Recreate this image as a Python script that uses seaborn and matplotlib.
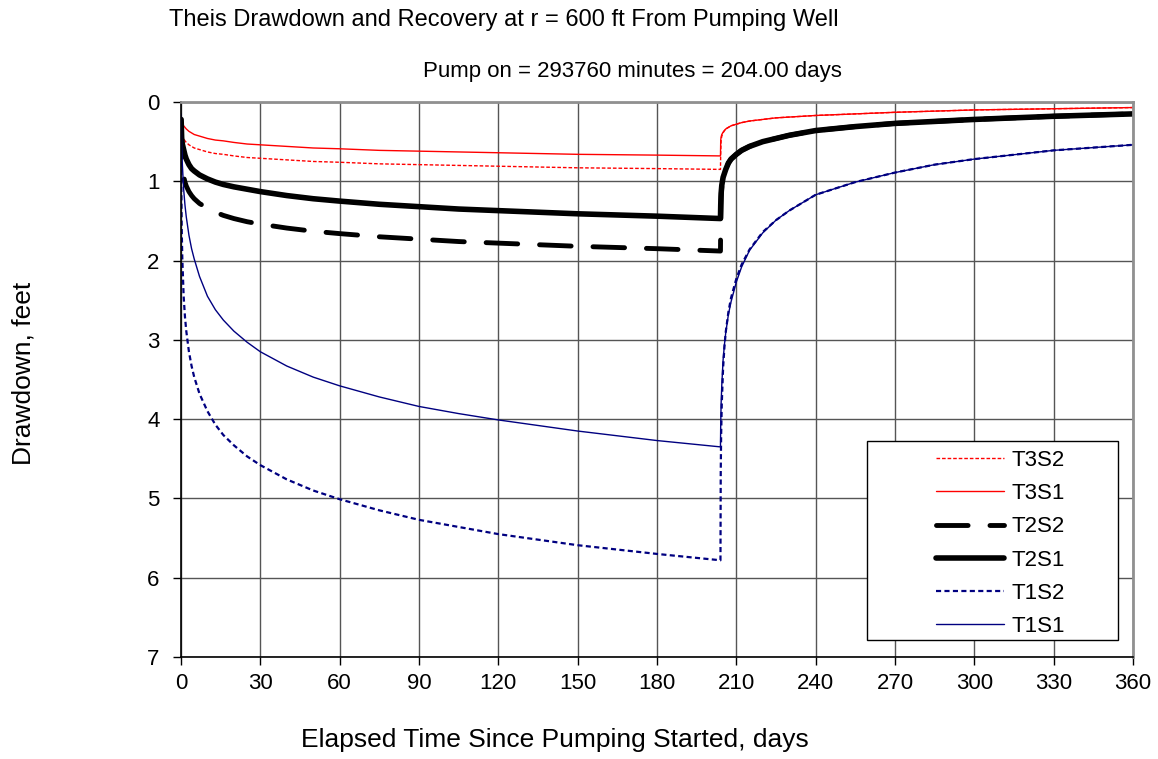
import numpy as np
import pandas as pd
import matplotlib
matplotlib.use("Agg")
import matplotlib.pyplot as plt
from matplotlib.patches import Rectangle
import seaborn as sns

sns.set_style("white")
plt.rcParams['font.family'] = ['Liberation Sans', 'DejaVu Sans']
plt.rcParams['text.color'] = 'black'
plt.rcParams['xtick.color'] = 'black'
plt.rcParams['ytick.color'] = 'black'

# Data (days since pumping started, drawdown in feet)
days = [0.05, 0.25, 0.5, 1, 1.5, 2, 3, 4, 5, 7, 10, 13, 16, 20, 25, 30, 40, 50, 60, 75,
        90, 105, 120, 150, 180, 204,
        204.1, 204.25, 204.5, 205, 205.5, 206, 207, 208, 210, 212, 215, 220, 225, 230,
        240, 255, 270, 285, 300, 330, 360]

t3s2 = [0.20, 0.38, 0.44, 0.46, 0.49, 0.51, 0.54, 0.56, 0.58, 0.60, 0.63, 0.65, 0.66, 0.68, 0.70, 0.71, 0.73, 0.75, 0.76, 0.78,
        0.79, 0.80, 0.81, 0.83, 0.84, 0.85,
        0.62, 0.48, 0.43, 0.39, 0.36, 0.34, 0.32, 0.30, 0.28, 0.26, 0.24, 0.22, 0.20, 0.19,
        0.17, 0.15, 0.13, 0.115, 0.10, 0.085, 0.07]
t3s1 = [0.18, 0.24, 0.27, 0.30, 0.32, 0.34, 0.37, 0.39, 0.41, 0.43, 0.46, 0.48, 0.49, 0.51, 0.53, 0.54, 0.56, 0.58, 0.59, 0.61,
        0.62, 0.63, 0.64, 0.66, 0.67, 0.68,
        0.48, 0.44, 0.41, 0.38, 0.36, 0.34, 0.32, 0.30, 0.28, 0.26, 0.24, 0.22, 0.20, 0.19,
        0.17, 0.15, 0.13, 0.115, 0.10, 0.085, 0.07]
t2s2 = [0.30, 0.69, 0.81, 0.94, 1.01, 1.06, 1.13, 1.18, 1.22, 1.28, 1.34, 1.39, 1.43, 1.47, 1.51, 1.54, 1.59, 1.63, 1.66, 1.70,
        1.73, 1.76, 1.78, 1.82, 1.85, 1.88,
        1.45, 1.20, 1.07, 0.95, 0.90, 0.85, 0.77, 0.72, 0.66, 0.61, 0.56, 0.50, 0.46, 0.42,
        0.36, 0.31, 0.27, 0.245, 0.22, 0.18, 0.15]
t2s1 = [0.22, 0.45, 0.53, 0.60, 0.67, 0.72, 0.79, 0.84, 0.87, 0.92, 0.97, 1.01, 1.04, 1.07, 1.10, 1.13, 1.18, 1.22, 1.25, 1.29,
        1.32, 1.35, 1.37, 1.41, 1.44, 1.47,
        1.30, 1.15, 1.05, 0.95, 0.90, 0.85, 0.77, 0.72, 0.66, 0.61, 0.56, 0.50, 0.46, 0.42,
        0.36, 0.31, 0.27, 0.245, 0.22, 0.18, 0.15]
t1s2 = [0.75, 1.57, 1.98, 2.45, 2.71, 2.89, 3.15, 3.33, 3.47, 3.68, 3.90, 4.07, 4.20, 4.33, 4.47, 4.58, 4.76, 4.90, 5.01, 5.15,
        5.27, 5.36, 5.45, 5.59, 5.70, 5.78,
        4.68, 4.21, 3.80, 3.35, 3.09, 2.90, 2.65, 2.47, 2.23, 2.05, 1.86, 1.64, 1.49, 1.37,
        1.17, 1.01, 0.89, 0.79, 0.72, 0.61, 0.54]
t1s1 = [0.15, 0.55, 0.78, 1.10, 1.30, 1.45, 1.68, 1.85, 1.98, 2.20, 2.45, 2.62, 2.75, 2.89, 3.03, 3.15, 3.33, 3.47, 3.58, 3.72,
        3.84, 3.93, 4.01, 4.15, 4.27, 4.35,
        4.05, 3.80, 3.57, 3.25, 3.06, 2.91, 2.68, 2.52, 2.27, 2.08, 1.87, 1.65, 1.49, 1.37,
        1.17, 1.01, 0.89, 0.79, 0.72, 0.61, 0.54]

series = [
    ("T3S2", t3s2, "#FF0000", 1.0, (0, (2.6, 1.4))),
    ("T3S1", t3s1, "#FF0000", 1.0, "-"),
    ("T2S2", t2s2, "black", 3.5, (0, (6.5, 4.5))),
    ("T2S1", t2s1, "black", 4.0, "-"),
    ("T1S2", t1s2, "#000080", 1.6, (0, (2.3, 1.5))),
    ("T1S1", t1s1, "#000080", 1.0, "-"),
]

fig = plt.figure(figsize=(11.58, 7.59), dpi=100)
ax = fig.add_axes([181/1158, 1-657/759, (1133-181)/1158, (657-102)/759])

for name, vals, col, lw, ls in series:
    df = pd.DataFrame({"days": days, "drawdown": vals})
    sns.lineplot(data=df, x="days", y="drawdown", ax=ax, color=col, linewidth=lw,
                 linestyle=ls, label=name, sort=False, estimator=None)
for ln in ax.get_lines():
    if ln.get_color() == "black":
        ln.set_dash_capstyle("round")
        ln.set_solid_capstyle("round")

ax.set_xlim(0, 360)
ax.set_ylim(7, 0)
ax.set_xticks(np.arange(0, 361, 30))
ax.set_yticks(np.arange(0, 8, 1))
ax.grid(True, color="#555555", linewidth=1)
ax.set_axisbelow(True)
ax.tick_params(axis="both", direction="out", length=5.5, width=1, color="black",
               labelsize=16, labelcolor="black", left=True, bottom=True)
ax.tick_params(axis="y", pad=10)
ax.tick_params(axis="x", pad=6)
for s in ["left", "bottom"]:
    ax.spines[s].set_color("black")
    ax.spines[s].set_linewidth(1.2)
for s in ["top", "right"]:
    ax.spines[s].set_color("#909090")
    ax.spines[s].set_linewidth(2)
ax.set_xlabel("")
ax.set_ylabel("")

fig.text(504/1158, 1-20/759, "Theis Drawdown and Recovery at r = 600 ft From Pumping Well",
         fontsize=17, ha="center", va="center", color="black")
fig.text(842/1158, 1-72/759, "Pump on = 293760 minutes = 204.00 days",
         fontsize=16, ha="right", va="center", color="black")
fig.text(24/1158, 1-373/759, "Drawdown, feet", fontsize=19, rotation=90,
         ha="center", va="center", color="black")
fig.text(555/1158, 1-740/759, "Elapsed Time Since Pumping Started, days", fontsize=19,
         ha="center", va="center", color="black")

# legend box drawn separately, entries placed inside it
box = Rectangle((867/1158, 1-640/759), (1118-867)/1158, (640-441)/759,
                transform=fig.transFigure, facecolor="white", edgecolor="black",
                linewidth=1, zorder=5, clip_on=False)
ax.add_patch(box)
leg = ax.legend(loc="upper left", bbox_to_anchor=(936/1158, 1-450/759),
                bbox_transform=fig.transFigure, frameon=False,
                fontsize=16, handlelength=3.06, handletextpad=0.36,
                labelspacing=0.55, borderpad=0, borderaxespad=0)
leg.set_zorder(6)
for t in leg.get_texts():
    t.set_color("black")

fig.savefig("out.png", dpi=100, facecolor="white")
